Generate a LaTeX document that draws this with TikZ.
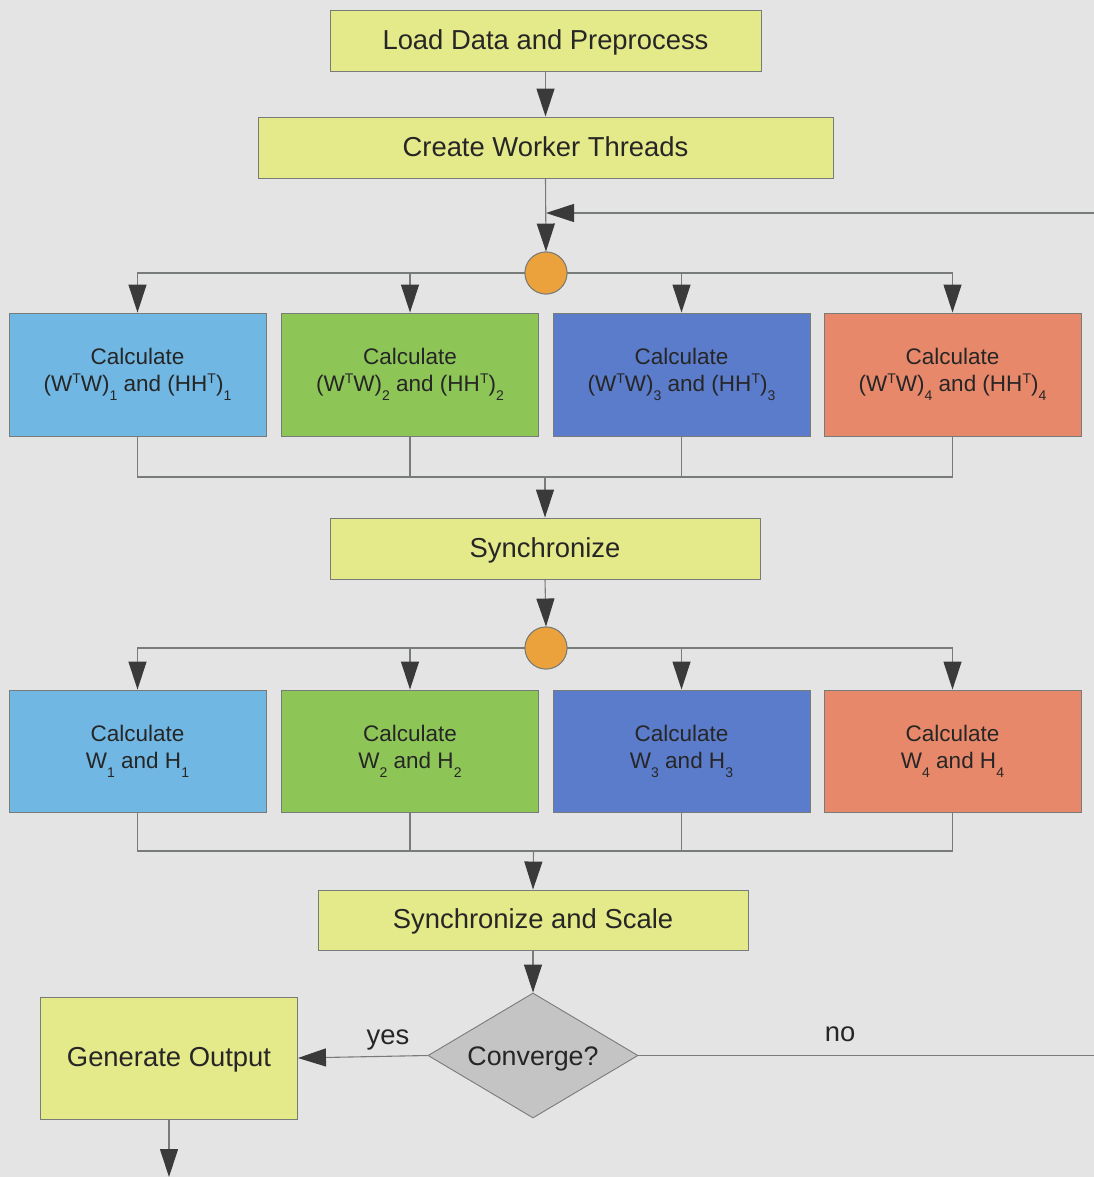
\documentclass[tikz,border=0pt]{standalone}
\usepackage{fontspec}
\setmainfont{Liberation Sans}
\usetikzlibrary{arrows.meta,shapes.geometric}
\definecolor{bg}{RGB}{227,228,227}
\definecolor{yel}{RGB}{228,233,138}
\definecolor{lblue}{RGB}{112,183,227}
\definecolor{grn}{RGB}{141,197,87}
\definecolor{dblue}{RGB}{91,123,203}
\definecolor{salmon}{RGB}{232,136,106}
\definecolor{orng}{RGB}{235,161,60}
\definecolor{dgray}{RGB}{196,196,196}
\definecolor{edgec}{RGB}{120,124,120}
\definecolor{tipc}{RGB}{58,58,58}
\definecolor{txt}{RGB}{38,38,38}
\newcommand\mysub[1]{\raisebox{-9pt}{\fontsize{14}{14}\selectfont #1}}
\newcommand\mysup[1]{\raisebox{8pt}{\fontsize{14}{14}\selectfont #1}}
\begin{document}
\begin{tikzpicture}[x=1pt,y=-1pt,
  every node/.style={text=txt},
  bigbox/.style={draw=edgec,line width=0.9pt,fill=yel,rectangle,inner sep=0pt,
    minimum height=61pt,font=\fontsize{27.4}{32}\selectfont,
    text height=20pt,text depth=2.4pt},
  calcbox/.style={draw=edgec,line width=0.9pt,rectangle,inner sep=0pt,
    minimum width=257pt,minimum height=123pt,align=center,
    font=\fontsize{22.5}{27}\selectfont},
  joint/.style={circle,draw=edgec,line width=0.9pt,fill=orng,minimum size=42pt,inner sep=0pt},
  conn/.style={draw=edgec,line width=1.1pt},
  arr/.style={conn,-{Triangle[length=28pt,width=18pt,fill=tipc,color=tipc]}},
  lbl/.style={font=\fontsize{27.4}{32}\selectfont}]
\useasboundingbox[fill=bg] (0,0) rectangle (1094,1177);

% top
\node[bigbox,minimum width=431pt] (load) at (545.5,40.5) {Load Data and Preprocess};
\node[bigbox,minimum width=575pt] (create) at (545.5,147.5) {Create Worker Threads};
\node[joint] (c1) at (546,273) {};

% row 1
\node[calcbox,fill=lblue] (a1) at (137.5,374.5) {Calculate\\(W\mysup{T}W)\mysub{1} and (HH\mysup{T})\mysub{1}};
\node[calcbox,fill=grn] (a2) at (410,374.5) {Calculate\\(W\mysup{T}W)\mysub{2} and (HH\mysup{T})\mysub{2}};
\node[calcbox,fill=dblue] (a3) at (681.5,374.5) {Calculate\\(W\mysup{T}W)\mysub{3} and (HH\mysup{T})\mysub{3}};
\node[calcbox,fill=salmon] (a4) at (952.5,374.5) {Calculate\\(W\mysup{T}W)\mysub{4} and (HH\mysup{T})\mysub{4}};

\node[bigbox,minimum width=430pt] (sync) at (545,548.5) {Synchronize};
\node[joint] (c2) at (546,648) {};

% row 2
\node[calcbox,fill=lblue,minimum height=122pt] (b1) at (137.5,751) {Calculate\\W\mysub{1} and H\mysub{1}};
\node[calcbox,fill=grn,minimum height=122pt] (b2) at (410,751) {Calculate\\W\mysub{2} and H\mysub{2}};
\node[calcbox,fill=dblue,minimum height=122pt] (b3) at (681.5,751) {Calculate\\W\mysub{3} and H\mysub{3}};
\node[calcbox,fill=salmon,minimum height=122pt] (b4) at (952.5,751) {Calculate\\W\mysub{4} and H\mysub{4}};

\node[bigbox,minimum width=430pt,minimum height=60pt] (scale) at (533,920) {Synchronize and Scale};
\node[diamond,aspect=1.68,draw=edgec,line width=0.9pt,fill=dgray,minimum width=210pt,minimum height=125pt,
  inner sep=0pt,font=\fontsize{26.8}{32}\selectfont,text height=20pt,text depth=0pt] (conv) at (533,1055.5) {Converge?};
\node[bigbox,minimum width=257pt,minimum height=122pt] (out) at (169,1058) {Generate Output};

% coordinates
\coordinate (fbR) at (1094,213);
\coordinate (fbin) at (546,213);
\coordinate (j1) at (545,477);
\coordinate (j2) at (533.5,851);
\coordinate (noR) at (1094,1055.5);
\coordinate (outEnd) at (169,1177);

% connectors
\draw[arr] (load.south) -- (create.north);
\draw[arr] (create.south) -- (c1.north);
\draw[arr] (fbR) -- (fbin);

\draw[arr] (c1.west) -| (a1.north);
\draw[arr] (c1.west) -| (a2.north);
\draw[arr] (c1.east) -| (a3.north);
\draw[arr] (c1.east) -| (a4.north);
\node[joint] at (c1) {};

\draw[conn] (a1.south) |- (j1) -| (a4.south);
\draw[conn] (a2.south) -- (a2.south |- j1);
\draw[conn] (a3.south) -- (a3.south |- j1);
\draw[arr] (j1) -- (sync.north);
\draw[arr] (sync.south) -- (c2.north);

\draw[arr] (c2.west) -| (b1.north);
\draw[arr] (c2.west) -| (b2.north);
\draw[arr] (c2.east) -| (b3.north);
\draw[arr] (c2.east) -| (b4.north);
\node[joint] at (c2) {};

\draw[conn] (b1.south) |- (j2) -| (b4.south);
\draw[conn] (b2.south) -- (b2.south |- j2);
\draw[conn] (b3.south) -- (b3.south |- j2);
\draw[arr] (j2) -- (scale.north);
\draw[arr] (scale.south) -- (conv.north);

\draw[arr] (conv.west) -- (out.east);
\node[lbl] (yeslbl) at (388,1040) {yes};
\draw[conn] (conv.east) -- (noR);
\node[lbl] (nolbl) at (840,1034) {no};
\draw[arr] (out.south) -- (outEnd);
\end{tikzpicture}
\end{document}
